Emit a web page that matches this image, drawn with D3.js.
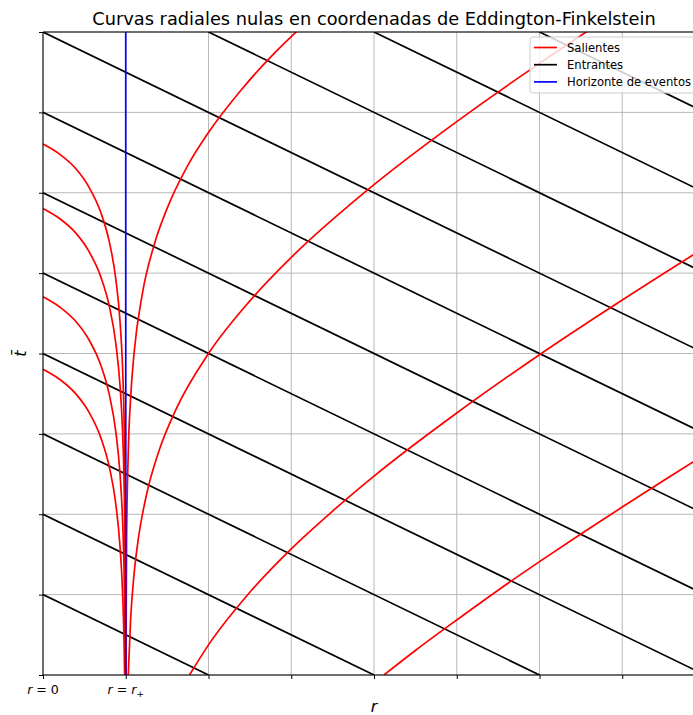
<!DOCTYPE html>
<html>
<head>
<meta charset="utf-8">
<script src="https://cdn.jsdelivr.net/npm/d3@7"></script>
<style>
  body { margin: 0; background: #fff; }
  svg { display: block; font-family: "DejaVu Sans", sans-serif; }
  .grid line { stroke: #b0b0b0; stroke-width: 0.9; }
  .axis path, .axis line { stroke: #000; stroke-width: 1; }
  .curve { fill: none; stroke-width: 1.7; }
</style>
</head>
<body>
<div id="chart"></div>
<script>

// ticks (r in units of r+, t-bar)
var rTicks = [0, 1, 2, 3, 4, 5, 6, 7, 8];
var tTicks = [0, 2, 4, 6, 8, 10, 12, 14, 16];
var horizonR = 1;

// Entrantes: straight segments [r0, t0, r1, t1]
var entrantes = [
  [0, 2, 2, 0],
  [0, 4, 4, 0],
  [0, 6, 6, 0],
  [0, 8, 8, 0],
  [0, 10, 8, 2],
  [0, 12, 8, 4],
  [0, 14, 8, 6],
  [0, 16, 8, 8],
  [2, 16, 8, 10],
  [4, 16, 8, 12],
  [6, 16, 8, 14]
];

// Salientes inside the horizon [r, t]
var salienteIn1 = [[0, 13.21], [0.2, 12.96], [0.4, 12.59], [0.55, 12.16], [0.7, 11.5], [0.8, 10.79],
  [0.88, 9.85], [0.93, 8.82], [0.96, 7.73], [0.98, 6.37], [0.99, 4.99], [0.995, 3.61], [0.998, 1.78], [0.9992, 0]];
var salienteIn2 = [[0, 11.61], [0.2, 11.36], [0.4, 10.99], [0.55, 10.56], [0.7, 9.9], [0.8, 9.19],
  [0.88, 8.25], [0.93, 7.22], [0.96, 6.13], [0.98, 4.77], [0.99, 3.39], [0.995, 2.01], [0.9982, 0]];
var salienteIn3 = [[0, 9.41], [0.2, 9.16], [0.4, 8.79], [0.55, 8.36], [0.7, 7.7], [0.8, 6.99],
  [0.88, 6.05], [0.93, 5.02], [0.96, 3.93], [0.98, 2.57], [0.99, 1.19], [0.9945, 0]];
var salienteIn4 = [[0, 7.61], [0.2, 7.36], [0.4, 6.99], [0.55, 6.56], [0.7, 5.9], [0.8, 5.19],
  [0.88, 4.25], [0.93, 3.22], [0.96, 2.13], [0.98, 0.77], [0.9865, 0]];

// Salientes outside the horizon
var salienteOut1 = [[1.002, 0], [1.01, 3.3], [1.03, 5.52], [1.06, 6.93], [1.1, 8.0], [1.2, 9.48], [1.35, 10.75],
  [1.5, 11.61], [1.75, 12.68], [2.0, 13.5], [2.4, 14.57], [2.8, 15.48], [3.1, 16.08]];
var salienteOut2 = [[1.03, 0], [1.06, 1.43], [1.1, 2.5], [1.15, 3.36], [1.25, 4.48], [1.4, 5.57], [1.6, 6.58],
  [2.0, 8.0], [2.5, 9.31], [3.0, 10.39], [4.0, 12.2], [5.0, 13.77], [6.0, 15.22], [6.6, 16.05]];
var salienteOut3 = [[1.77, 0], [2.0, 0.75], [2.5, 2.06], [3.0, 3.14], [3.5, 4.08], [4.0, 4.95], [5.0, 6.52],
  [6.0, 7.97], [7.0, 9.33], [8.0, 10.64]];
var salienteOut4 = [[4.12, 0], [4.5, 0.61], [5.0, 1.37], [5.5, 2.11], [6.0, 2.82], [6.5, 3.51], [7.0, 4.18],
  [7.5, 4.84], [8.0, 5.49]];

var salientes = [salienteIn1, salienteIn2, salienteIn3, salienteIn4,
  salienteOut1, salienteOut2, salienteOut3, salienteOut4];

var legendLabels = ["Salientes", "Entrantes", "Horizonte de eventos"];
var legendColors = ["#ff0000", "#000000", "#0000ff"];


var margin = { top: 32, right: 0, bottom: 40, left: 43 };
var width = 662;   // axes run past the right edge of the page
var height = 643;

var svg = d3.select("#chart").append("svg")
  .attr("width", 693)
  .attr("height", 715);

var g = svg.append("g")
  .attr("transform", "translate(" + margin.left + "," + margin.top + ")");

// Scales and axes
var x = d3.scaleLinear().domain([0, 8]).range([0, width]);
var y = d3.scaleLinear().domain([0, 16]).range([height, 0]);

g.append("clipPath").attr("id", "clip")
  .append("rect").attr("width", width).attr("height", height);

// grid
var grid = g.append("g").attr("class", "grid");
grid.selectAll(".gx").data(rTicks).enter().append("line")
  .attr("x1", d => x(d)).attr("x2", d => x(d))
  .attr("y1", 0).attr("y2", height);
grid.selectAll(".gy").data(tTicks).enter().append("line")
  .attr("x1", 0).attr("x2", width)
  .attr("y1", d => y(d)).attr("y2", d => y(d));

var plot = g.append("g").attr("clip-path", "url(#clip)");

// Entrantes
plot.selectAll(".in").data(entrantes).enter().append("line")
  .attr("x1", d => x(d[0])).attr("y1", d => y(d[1]))
  .attr("x2", d => x(d[2])).attr("y2", d => y(d[3]))
  .attr("stroke", "#000").attr("stroke-width", 1.7);

// Salientes
var line = d3.line()
  .x(d => x(d[0]))
  .y(d => y(d[1]))
  .curve(d3.curveMonotoneX);

plot.selectAll(".out").data(salientes).enter().append("path")
  .attr("class", "curve")
  .attr("stroke", "#ff0000")
  .attr("d", line);

// Horizon
plot.append("line")
  .attr("x1", x(horizonR)).attr("x2", x(horizonR))
  .attr("y1", 0).attr("y2", height)
  .attr("stroke", "#0000ff").attr("stroke-width", 1.7);

// axes
var xAxis = d3.axisBottom(x).tickValues(rTicks).tickSize(4).tickPadding(3).tickFormat("");
var yAxis = d3.axisLeft(y).tickValues(tTicks).tickSize(4).tickFormat("");

var gx = g.append("g").attr("class", "axis")
  .attr("transform", "translate(0," + height + ")")
  .call(xAxis);
g.append("g").attr("class", "axis").call(yAxis);
g.selectAll(".axis path.domain").remove();

// spines
g.append("line").attr("x1", 0).attr("x2", width).attr("y1", height).attr("y2", height).attr("stroke", "#000");
g.append("line").attr("x1", 0).attr("x2", width).attr("y1", 0).attr("y2", 0).attr("stroke", "#000");
g.append("line").attr("x1", 0).attr("x2", 0).attr("y1", 0).attr("y2", height).attr("stroke", "#000");
g.append("line").attr("x1", width).attr("x2", width).attr("y1", 0).attr("y2", height).attr("stroke", "#000");

// special tick labels r = 0 and r = r+
var tickLabels = [{ v: 0, sub: null, rhs: "0" }, { v: horizonR, sub: "+", rhs: "r" }];
tickLabels.forEach(function(d) {
  var t = g.append("text")
    .attr("x", x(d.v)).attr("y", height + 19)
    .attr("text-anchor", "middle")
    .attr("font-size", 12.6);
  t.append("tspan").attr("font-style", "italic").text("r");
  t.append("tspan").text(" = ");
  if (d.sub) {
    t.append("tspan").attr("font-style", "italic").text("r");
    t.append("tspan").attr("font-size", 9).attr("dy", 2.5).text(d.sub);
  } else {
    t.append("tspan").text(d.rhs);
  }
});

// axis labels
g.append("text")
  .attr("x", width / 2).attr("y", height + 37)
  .attr("text-anchor", "middle")
  .attr("font-size", 16).attr("font-style", "italic")
  .text("r");

g.append("text")
  .attr("transform", "translate(" + (-17) + "," + (height / 2) + ") rotate(-90)")
  .attr("text-anchor", "middle")
  .attr("font-size", 16).attr("font-style", "italic")
  .text("t\u0304");

// title
svg.append("text")
  .attr("x", margin.left + width / 2).attr("y", 25)
  .attr("text-anchor", "middle")
  .attr("font-size", 17.8)
  .text("Curvas radiales nulas en coordenadas de Eddington-Finkelstein");

// legend
var lg = g.append("g").attr("transform", "translate(" + (width - 175) + ",5)");
lg.append("rect")
  .attr("width", 172).attr("height", 56)
  .attr("rx", 2.5)
  .attr("fill", "#fff").attr("fill-opacity", 0.8)
  .attr("stroke", "#cccccc").attr("stroke-width", 1);
var items = lg.selectAll(".item").data(legendLabels).enter().append("g")
  .attr("transform", (d, i) => "translate(0," + (10.5 + i * 17.2) + ")");
items.append("line")
  .attr("x1", 4).attr("x2", 27)
  .attr("stroke", (d, i) => legendColors[i]).attr("stroke-width", 1.7);
items.append("text")
  .attr("x", 37).attr("y", 4.1)
  .attr("font-size", 11.6)
  .text(d => d);

</script>
</body>
</html>
